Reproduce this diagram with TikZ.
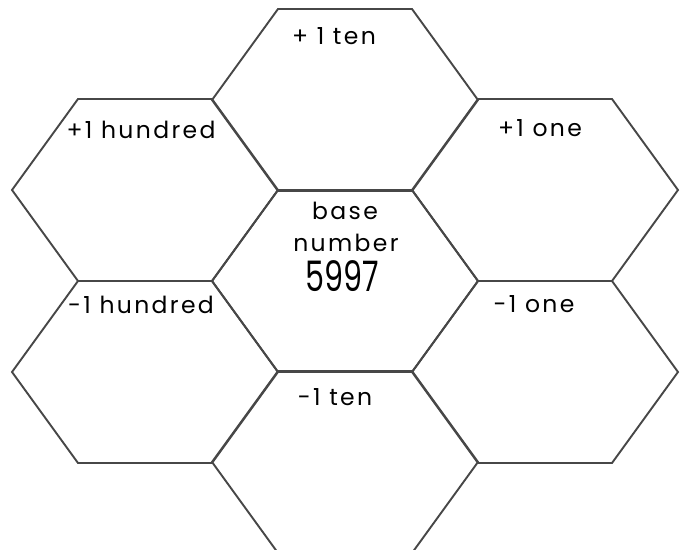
\documentclass[tikz,border=0pt]{standalone}
\usepackage{fontspec}
\setmainfont{Poppins}[LetterSpace=10]
\newfontfamily\numfont{Poppins}
\begin{document}
\begin{tikzpicture}[x=1pt,y=-1pt,
  hexline/.style={draw=black!72, line width=1.9pt, line join=miter},
  lbl/.style={font=\fontsize{23.5}{24}\selectfont, inner sep=0pt, text=black}]
\useasboundingbox (0,0) rectangle (688,549);
\clip (0,0) rectangle (688,549);
\foreach \cx/\cy in {345/100, 145/190, 545/190, 345/281, 145/372, 545/372, 345/462}{
  \draw[hexline] (\cx-67,\cy-91) -- (\cx+67,\cy-91) -- (\cx+133,\cy) -- (\cx+67,\cy+91)
    -- (\cx-67,\cy+91) -- (\cx-133,\cy) -- cycle;
}
\node[lbl] (pten) at (334,36) {+ 1 ten};
\node[lbl] (phun) at (141,130) {+1 hundred};
\node[lbl] (pone) at (540,128) {+1 one};
\node[lbl] (base) at (345,211) {base};
\node[lbl] (numb) at (346,243) {number};
\node[inner sep=0pt, xscale=0.72, font=\numfont\fontsize{42}{42}\selectfont] (val) at (342,276) {5997};
\node[lbl] (mhun) at (141,305) {-1 hundred};
\node[lbl] (mone) at (534,304) {-1 one};
\node[lbl] (mten) at (335,397) {-1 ten};
\end{tikzpicture}
\end{document}
